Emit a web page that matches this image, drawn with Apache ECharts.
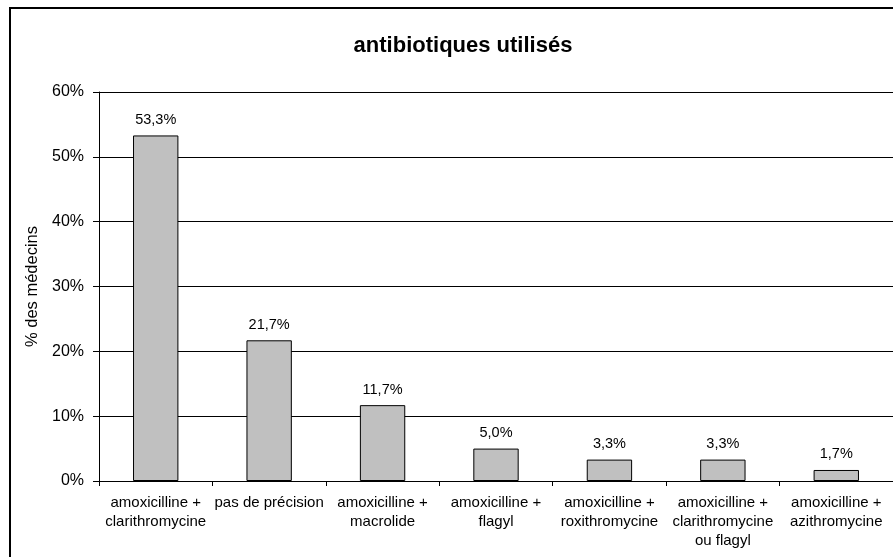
<!DOCTYPE html>
<html>
<head>
<meta charset="utf-8">
<script src="https://cdn.jsdelivr.net/npm/echarts@6/dist/echarts.min.js"></script>
<style>
html,body{margin:0;padding:0;background:#fff;}
#c{width:893px;height:557px;}
</style>
</head>
<body>
<div id="c"></div>
<script>
const categories = [
  "amoxicilline +\nclarithromycine",
  "pas de précision",
  "amoxicilline +\nmacrolide",
  "amoxicilline +\nflagyl",
  "amoxicilline +\nroxithromycine",
  "amoxicilline +\nclarithromycine\nou flagyl",
  "amoxicilline +\nazithromycine"
];
const values = [53.3, 21.7, 11.7, 5.0, 3.3, 3.3, 1.7];
const yTicks = [0, 10, 20, 30, 40, 50, 60];

const chart = echarts.init(document.getElementById('c'), null, {renderer: 'canvas'});
const font = 'Arial, "Liberation Sans", sans-serif';
chart.setOption({
  animation: false,
  backgroundColor: '#fff',
  textStyle: {fontFamily: font},
  title: {
    text: 'antibiotiques utilisés',
    left: 458, textAlign: 'center', top: 30,
    textStyle: {fontFamily: font, fontSize: 22, fontWeight: 'bold', color: '#000'}
  },
  graphic: [{
    type: 'rect', silent: true,
    shape: {x: 10, y: 8, width: 1000, height: 1000},
    style: {fill: 'none', stroke: '#000', lineWidth: 2}
  }],
  grid: {left: 99, top: 92, right: -4, bottom: 76, containLabel: false},
  xAxis: {
    type: 'category',
    data: categories,
    axisLine: {show: true, lineStyle: {color: '#000', width: 1}},
    axisTick: {show: true, alignWithLabel: false, length: 5, inside: false, lineStyle: {color: '#000'}},
    axisLabel: {interval: 0, color: '#000', fontSize: 15, fontFamily: font, lineHeight: 19, margin: 12}
  },
  yAxis: {
    type: 'value',
    min: yTicks[0], max: yTicks[yTicks.length - 1], interval: 10,
    name: '% des médecins',
    nameLocation: 'middle',
    nameGap: 57,
    nameTextStyle: {color: '#000', fontSize: 16.5, fontFamily: font},
    axisLine: {show: true, lineStyle: {color: '#000', width: 1}},
    axisTick: {show: true, length: 6, lineStyle: {color: '#000'}},
    axisLabel: {color: '#000', fontSize: 16, fontFamily: font, margin: 15, formatter: v => v + '%'},
    splitLine: {show: true, lineStyle: {color: '#000', width: 1}}
  },
  series: [{
    type: 'bar',
    data: values,
    barWidth: '40%',
    itemStyle: {color: '#c0c0c0', borderColor: '#000', borderWidth: 1},
    label: {
      show: true, position: 'top', distance: 8,
      color: '#000', fontSize: 14.5, fontFamily: font,
      formatter: p => p.value.toFixed(1).replace('.', ',') + '%'
    }
  }]
});
</script>
</body>
</html>
